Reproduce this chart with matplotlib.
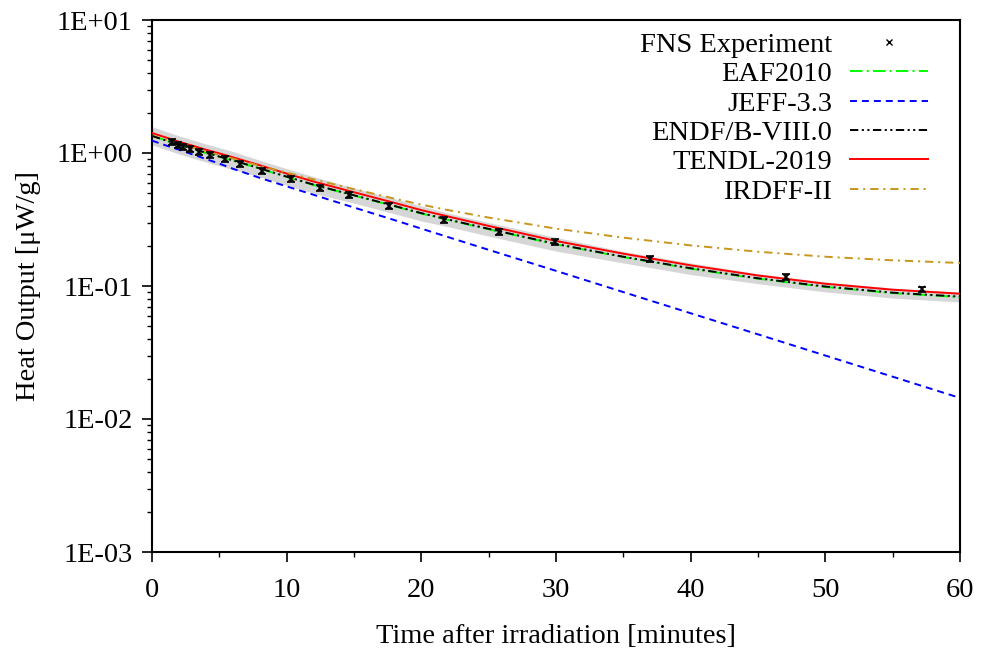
import matplotlib
matplotlib.use('Agg')
import matplotlib.pyplot as plt
from matplotlib.lines import Line2D
from matplotlib.ticker import FixedLocator, FuncFormatter, LogLocator, MultipleLocator, NullFormatter
import numpy as np

plt.rcParams['font.family'] = ['Liberation Serif', 'DejaVu Serif']
plt.rcParams['lines.scale_dashes'] = False

# ---------------- data ----------------
t_calc = [0, 1, 2, 3, 4, 5, 6, 8, 10, 12, 15, 18, 20, 22, 25, 30, 35, 40, 45, 50, 55, 60]

eaf2010 = [1.349, 1.245, 1.151, 1.072, 1.000, 0.938, 0.877, 0.764, 0.661, 0.575, 0.479,
           0.398, 0.351, 0.314, 0.267, 0.206, 0.165, 0.135, 0.1135, 0.0984, 0.0885, 0.0826]
jeff33 = [1.239, 1.143, 1.059, 0.977, 0.902, 0.832, 0.762, 0.650, 0.561, 0.485, 0.389,
          0.313, 0.270, 0.233, 0.187, 0.130, 0.0900, 0.0624, 0.0433, 0.0300, 0.0208, 0.0144]
endf80 = [1.343, 1.247, 1.156, 1.076, 1.005, 0.940, 0.881, 0.767, 0.664, 0.578, 0.481,
          0.400, 0.353, 0.316, 0.269, 0.207, 0.166, 0.136, 0.1143, 0.0991, 0.0891, 0.0832]
tendl2019 = [1.413, 1.312, 1.216, 1.135, 1.059, 0.993, 0.929, 0.809, 0.700, 0.610, 0.507,
             0.422, 0.372, 0.333, 0.283, 0.218, 0.175, 0.143, 0.120, 0.104, 0.0938, 0.0875]
irdff2 = [1.343, 1.256, 1.175, 1.099, 1.030, 0.966, 0.908, 0.802, 0.711, 0.634, 0.535,
          0.454, 0.409, 0.372, 0.327, 0.270, 0.231, 0.202, 0.181, 0.166, 0.156, 0.149]

band_hi = [1.578, 1.457, 1.347, 1.254, 1.170, 1.097, 1.026, 0.882, 0.763, 0.664, 0.546,
           0.454, 0.400, 0.353, 0.300, 0.232, 0.182, 0.149, 0.1237, 0.1073, 0.0965, 0.0900]
band_lo = [1.153, 1.064, 0.984, 0.916, 0.855, 0.802, 0.750, 0.661, 0.572, 0.498, 0.420,
           0.349, 0.308, 0.279, 0.237, 0.183, 0.149, 0.122, 0.1041, 0.0903, 0.0812, 0.0758]

t_exp = [1.5, 1.9, 2.3, 2.8, 3.5, 4.3, 5.4, 6.5, 8.2, 10.3, 12.5, 14.6, 17.6, 21.7, 25.8,
         29.9, 37.0, 47.1, 57.2]
heat_exp = [1.216, 1.148, 1.109, 1.072, 1.019, 0.966, 0.902, 0.826, 0.733, 0.638, 0.546,
            0.483, 0.400, 0.313, 0.256, 0.213, 0.159, 0.1175, 0.0944]
err_exp = [0.061, 0.057, 0.055, 0.054, 0.051, 0.048, 0.045, 0.041, 0.037, 0.032, 0.027,
           0.024, 0.020, 0.016, 0.013, 0.011, 0.008, 0.0059, 0.0047]

ytick_vals = [1e-3, 1e-2, 1e-1, 1e0, 1e1]
ytick_labels = ['1E-03', '1E-02', '1E-01', '1E+00', '1E+01']
xtick_vals = [0, 10, 20, 30, 40, 50, 60]

labels = ['FNS Experiment', 'EAF2010', 'JEFF-3.3', 'ENDF/B-VIII.0', 'TENDL-2019', 'IRDFF-II']

# ---------------- figure ----------------
W, H = 982, 652
fig = plt.figure(figsize=(W / 100, H / 100), dpi=100)
ax = fig.add_axes([152 / W, 1 - 552 / H, (960 - 152) / W, (552 - 20) / H])
ax.set_yscale('log')
ax.set_xlim(0, 60)
ax.set_ylim(1e-3, 1e1)

ax.fill_between(t_calc, band_lo, band_hi, color='#d6d6d6', lw=0, zorder=1)

lw = 1.4
l_eaf, = ax.plot(t_calc, eaf2010, color='#00ff00', lw=lw, ls=(0, (9, 3, 1.5, 3)), zorder=3)
l_jeff, = ax.plot(t_calc, jeff33, color='#0000ff', lw=lw, ls=(0, (5, 3.6)), zorder=3)
l_endf, = ax.plot(t_calc, endf80, color='black', lw=lw, ls=(0, (6, 2.5, 1.5, 2.5, 1.5, 2.5)), zorder=4)
l_tendl, = ax.plot(t_calc, tendl2019, color='#ff0000', lw=lw, ls='-', zorder=3)
l_irdff, = ax.plot(t_calc, irdff2, color='#c8961e', lw=lw, ls=(0, (6, 3.5, 1.5, 3.5)), zorder=3)

ax.errorbar(t_exp, heat_exp, yerr=err_exp, fmt='x', color='black', ms=4.5, mew=1.2,
            elinewidth=1.2, capsize=3, capthick=1.2, zorder=5)

# axes styling
for s in ax.spines.values():
    s.set_linewidth(1.5)
ax.yaxis.set_major_locator(FixedLocator(ytick_vals))
ax.yaxis.set_major_formatter(FuncFormatter(lambda v, p: ytick_labels[ytick_vals.index(min(ytick_vals, key=lambda a: abs(np.log10(a) - np.log10(v))))]))
ax.yaxis.set_minor_locator(LogLocator(base=10, subs=np.arange(2, 10)))
ax.yaxis.set_minor_formatter(NullFormatter())
ax.xaxis.set_major_locator(FixedLocator(xtick_vals))
ax.xaxis.set_minor_locator(MultipleLocator(5))
ax.tick_params(axis='both', which='major', direction='out', length=7, width=1.2,
               labelsize=20.5, top=False, right=False)
ax.tick_params(axis='both', which='minor', direction='out', length=3.5, width=1.0,
               top=False, right=False)
ax.tick_params(axis='x', which='major', pad=12)
ax.tick_params(axis='y', which='major', pad=7)

ax.set_xlabel('Time after irradiation [minutes]', fontsize=20.5, labelpad=15)
ax.set_ylabel('Heat Output [μW/g]', fontsize=20.5, labelpad=11)

# legend
h_exp = Line2D([], [], marker='x', color='black', ls='none', ms=4, mew=1.0)
leg = ax.legend([h_exp, l_eaf, l_jeff, l_endf, l_tendl, l_irdff], labels,
                loc='upper right', bbox_to_anchor=(928 / W, 1 - 32 / H),
                bbox_transform=fig.transFigure, frameon=False, markerfirst=False,
                handlelength=2.75, handletextpad=0.62, labelspacing=0.12,
                fontsize=20.5, borderaxespad=0, borderpad=0)

fig.savefig('out.png', dpi=100)
